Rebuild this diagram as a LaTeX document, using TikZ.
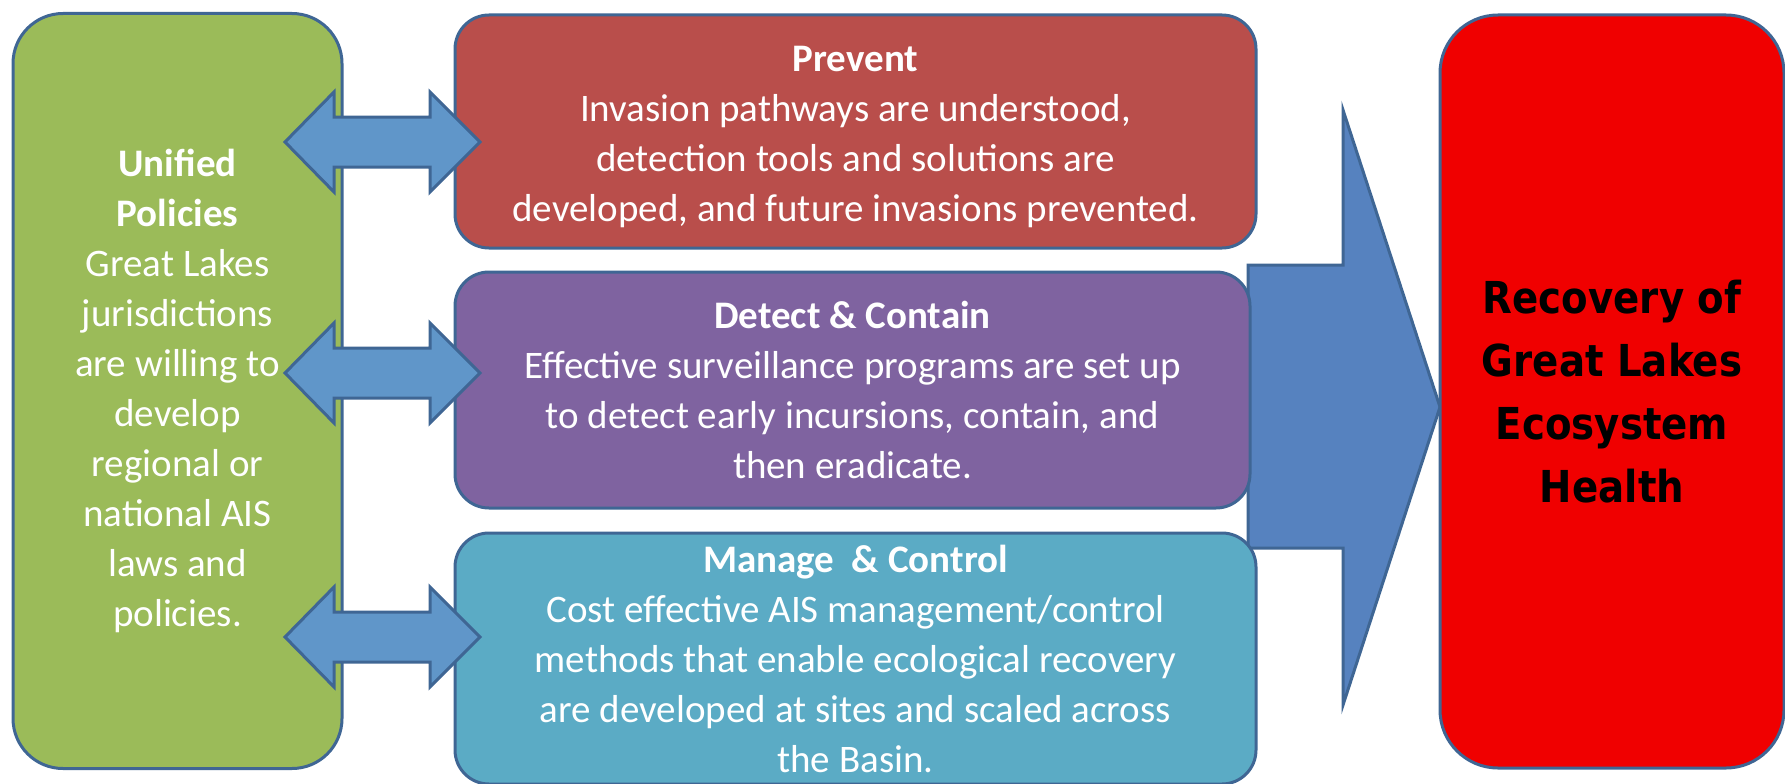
\documentclass[tikz,border=0pt]{standalone}
\usepackage{fontspec}
\setmainfont{Carlito}
\newfontfamily\recfont{DejaVu Sans}[FakeStretch=0.88]
\definecolor{polgreen}{HTML}{9BBB59}
\definecolor{prevred}{HTML}{B94E4B}
\definecolor{detpurple}{HTML}{7F63A0}
\definecolor{mantteal}{HTML}{5BABC5}
\definecolor{healthred}{HTML}{F00000}
\definecolor{edgeblue}{HTML}{3F6694}
\definecolor{arrowblue}{HTML}{6096C9}
\definecolor{bigblue}{HTML}{5682BF}

\begin{document}
\begin{tikzpicture}[x=1pt,y=-1pt,
    box/.style={draw=edgeblue, line width=3pt, rounded corners=34pt, align=center,
        text=white, font=\fontsize{39}{50}\selectfont, inner sep=0pt},
    dblarrow/.style={draw=edgeblue, line width=3pt, fill=arrowblue, line join=miter}]
        \fill[white] (0,0) rectangle (1785,784);
        \useasboundingbox (0,0) rectangle (1785,784);
        % big arrow into the health box
        \draw[line width=3pt, draw=edgeblue, fill=bigblue]
            (1248,265) -- (1343,265) -- (1343,110) -- (1440,407)
            -- (1343,705) -- (1343,548) -- (1248,548) -- cycle;
        \node[box, fill=polgreen, minimum width=329pt, minimum height=755pt,
            rounded corners=50pt] (pol) at (177.5,391)
            {\textbf{Unified}\\\textbf{Policies}\\Great Lakes\\jurisdictions\\are willing to\\develop\\regional or\\national AIS\\laws and\\policies.};
        \node[box, fill=prevred, minimum width=801pt, minimum height=233pt] (prev) at (855.5,131.5) {};
        \node[text=white, align=center, font=\fontsize{39}{50}\selectfont] (prevtxt) at (855.5,137)
            {\textbf{Prevent}\\Invasion pathways are understood,\\detection tools and solutions are\\developed, and future invasions prevented.};
        \node[box, fill=detpurple, minimum width=795pt, minimum height=236pt] (det) at (852.5,390)
            {\textbf{Detect \& Contain}\\Effective surveillance programs are set up\\to detect early incursions, contain, and\\then eradicate.};
        \node[box, fill=mantteal, minimum width=801pt, minimum height=251pt] (man) at (855.5,658.5)
            {\textbf{Manage \ \& Control}\\Cost effective AIS management/control\\methods that enable ecological recovery\\are developed at sites and scaled across\\the Basin.};
        \node[box, fill=healthred, minimum width=344pt, minimum height=753pt, rounded corners=58pt,
            text=black, font=\recfont\bfseries\fontsize{44}{63}\selectfont] (health) at (1612,391.5)
            {Recovery of\\Great Lakes\\Ecosystem\\Health};
        \foreach \y in {142,373,637}
            \draw[dblarrow] (285,\y) -- ++(49,-50) -- ++(0,25) -- ++(96,0) -- ++(0,-25) -- ++(50,50)
                -- ++(-50,50) -- ++(0,-25) -- ++(-96,0) -- ++(0,25) -- cycle;
\end{tikzpicture}
\end{document}
